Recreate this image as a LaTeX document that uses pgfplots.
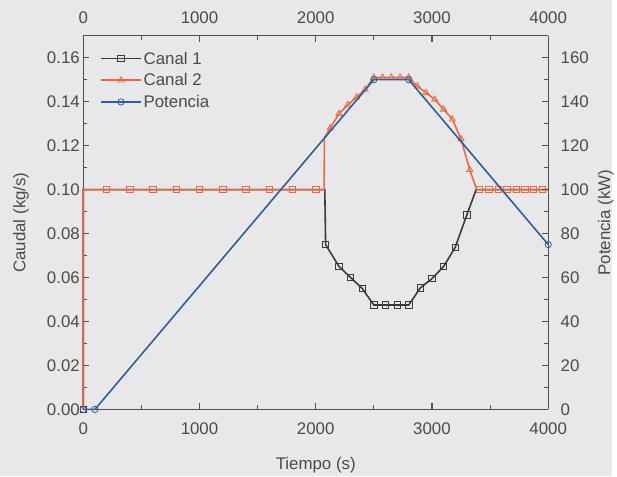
\documentclass[border=0pt]{standalone}
\usepackage{pgfplots}
\usepackage{pgfplotstable}
\pgfplotsset{compat=1.18}
\usepackage{fontspec}
\setmainfont{Liberation Sans}
\definecolor{bgcol}{HTML}{E8E8EA}
\definecolor{axcol}{HTML}{505050}
\definecolor{labcol}{HTML}{4A4A4A}
\definecolor{cA}{HTML}{3A3A3A}
\definecolor{cB}{HTML}{E8693F}
\definecolor{cP}{HTML}{2F5D9C}

\pgfplotstableread{
t q
0 0
0 0.1
200 0.1
400 0.1
600 0.1
800 0.1
1000 0.1
1200 0.1
1400 0.1
1600 0.1
1800 0.1
2000 0.1
2078 0.1
2085 0.075
2200 0.065
2300 0.06
2400 0.055
2500 0.0475
2600 0.0475
2700 0.0475
2800 0.0475
2900 0.0553
3000 0.0595
3100 0.065
3200 0.0737
3300 0.0885
3380 0.1
3410 0.1
3490 0.1
3570 0.1
3645 0.1
3725 0.1
3800 0.1
3875 0.1
3950 0.1
4000 0.1
}\canalA

\pgfplotstableread{
t q
0 0
2085 0.075
2200 0.065
2300 0.06
2400 0.055
2500 0.0475
2600 0.0475
2700 0.0475
2800 0.0475
2900 0.0553
3000 0.0595
3100 0.065
3200 0.0737
3300 0.0885
}\canalAmarks

\pgfplotstableread{
t q
0 0
0 0.1
200 0.1
400 0.1
600 0.1
800 0.1
1000 0.1
1200 0.1
1400 0.1
1600 0.1
1800 0.1
2000 0.1
2072 0.1
2075 0.1235
2125 0.128
2200 0.1345
2275 0.1385
2350 0.142
2425 0.1455
2500 0.151
2575 0.151
2650 0.151
2725 0.151
2800 0.151
2875 0.147
2950 0.144
3025 0.141
3100 0.1365
3175 0.132
3250 0.123
3325 0.109
3385 0.1
3410 0.1
3490 0.1
3570 0.1
3645 0.1
3725 0.1
3800 0.1
3875 0.1
3950 0.1
4000 0.1
}\canalB

\pgfplotstableread{
t q
200 0.1
400 0.1
600 0.1
800 0.1
1000 0.1
1200 0.1
1400 0.1
1600 0.1
1800 0.1
2000 0.1
3410 0.1
3490 0.1
3570 0.1
3645 0.1
3725 0.1
3800 0.1
3875 0.1
3950 0.1
}\canalBsq

\pgfplotstableread{
t q
2125 0.128
2200 0.1345
2275 0.1385
2350 0.142
2425 0.1455
2500 0.151
2575 0.151
2650 0.151
2725 0.151
2800 0.151
2875 0.147
2950 0.144
3025 0.141
3100 0.1365
3175 0.132
3250 0.123
3325 0.109
}\canalBtri

\pgfplotstableread{
t p
0 0
100 0
2500 150
2800 150
4000 75
}\potencia

\pgfplotsset{
  common/.style={
    at={(0,0)}, anchor=south west,
    scale only axis, width=469pt, height=377pt,
    xmin=0, xmax=4000,
    xtick={0,1000,2000,3000,4000},
    minor x tick num=1,
    minor y tick num=1,
    tick align=inside,
    major tick length=6pt, minor tick length=4pt,
    axis line style={draw=axcol, line width=1.3pt, -},
    every tick/.style={draw=axcol, line width=1.1pt},
    tick label style={font=\fontsize{17}{20}\selectfont, text=labcol},
    label style={font=\fontsize{17}{20}\selectfont, text=labcol},
    /pgf/number format/assume math mode=true,
    /pgf/number format/1000 sep={},
    clip=false,
  }
}

\begin{document}
\begin{tikzpicture}
\fill[bgcol] (-84pt,-67pt) rectangle (533pt,413pt);
\begin{axis}[common,
  ymin=0, ymax=0.17,
  axis x line*=bottom, axis y line*=left,
  ytick={0,0.02,0.04,0.06,0.08,0.10,0.12,0.14,0.16},
  yticklabel style={/pgf/number format/.cd, fixed, fixed zerofill, precision=2},
  xticklabel style={yshift=-10pt},
  scaled y ticks=false,
  xlabel={Tiempo (s)},
  ylabel={Caudal (kg/s)},
  xlabel style={at={(axis description cs:0.5,-0.15)}, anchor=center},
  ylabel style={at={(axis description cs:-0.134,0.5)}, anchor=center},
  legend cell align=left,
  legend image code/.code={\draw[mark repeat=2,mark phase=2,#1] plot coordinates {(0pt,0pt) (20pt,0pt) (40pt,0pt)};},
  legend style={draw=none, fill=none, font=\fontsize{17}{20}\selectfont, text=labcol,
    at={(axis description cs:0.03,0.968)}, anchor=north west, row sep=4pt},
]
\addlegendimage{cA, line width=1.6pt, mark=square, mark size=3.2pt, mark options={line width=0.8pt}}
\addlegendentry{Canal 1}
\addlegendimage{cB, line width=1.6pt, mark=triangle, mark size=3.6pt, mark options={line width=0.8pt}}
\addlegendentry{Canal 2}
\addlegendimage{cP, line width=1.6pt, mark=o, mark size=3.2pt, mark options={line width=0.8pt}}
\addlegendentry{Potencia}

\addplot[cA, line width=1.6pt, no markers, forget plot] table[x=t,y=q] {\canalA};
\addplot[cA, only marks, mark=square, mark size=3.2pt, mark options={line width=0.8pt}, forget plot] table[x=t,y=q] {\canalAmarks};
\addplot[cB, line width=1.6pt, no markers, forget plot] table[x=t,y=q] {\canalB};
\addplot[cB, only marks, mark=square, mark size=3.2pt, mark options={line width=0.8pt}, forget plot] table[x=t,y=q] {\canalBsq};
\addplot[cB, only marks, mark=triangle, mark size=3.6pt, mark options={line width=0.8pt}, forget plot] table[x=t,y=q] {\canalBtri};
\end{axis}
\begin{axis}[common,
  ymin=0, ymax=170,
  axis x line*=top, axis y line*=right,
  ytick={0,20,40,60,80,100,120,140,160},
  xticklabel style={yshift=9pt},
  yticklabel style={xshift=9pt},
  ylabel={Potencia (kW)},
  ylabel style={at={(axis description cs:1.124,0.5)}, anchor=center},
]
\addplot[cP, line width=1.6pt, mark=o, mark size=3.2pt, mark options={line width=0.8pt}, forget plot] table[x=t,y=p] {\potencia};
\end{axis}
\end{tikzpicture}
\end{document}
